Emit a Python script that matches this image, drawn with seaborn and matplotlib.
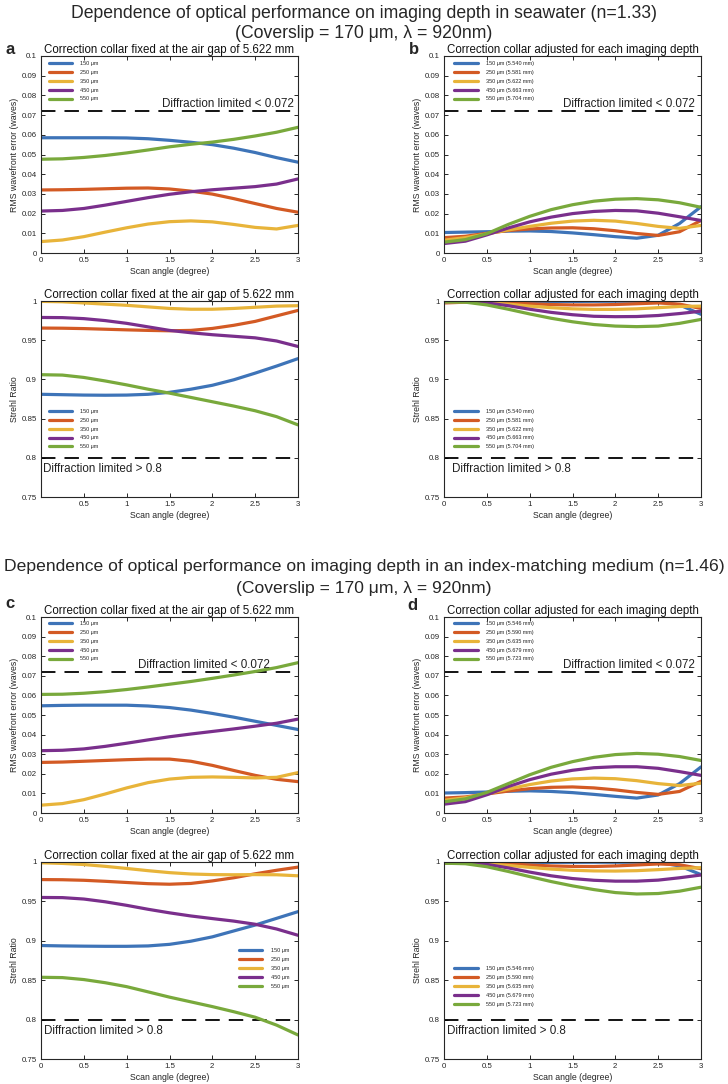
import numpy as np
import pandas as pd
import seaborn as sns
import matplotlib.pyplot as plt

# %%
# Dados
angle = [0, 0.25, 0.5, 0.75, 1, 1.25, 1.5, 1.75, 2, 2.25, 2.5, 2.75, 3]
depths = ['150', '250', '350', '450', '550']

rms_a = [
    [0.0585, 0.0585, 0.0585, 0.0585, 0.0584, 0.0580, 0.0572, 0.0562, 0.0550, 0.0532, 0.0510, 0.0484, 0.0461],
    [0.0320, 0.0321, 0.0323, 0.0326, 0.0329, 0.0330, 0.0325, 0.0314, 0.0299, 0.0276, 0.0251, 0.0226, 0.0207],
    [0.0058, 0.0066, 0.0083, 0.0106, 0.0128, 0.0147, 0.0159, 0.0163, 0.0158, 0.0145, 0.0130, 0.0122, 0.0140],
    [0.0213, 0.0216, 0.0226, 0.0243, 0.0262, 0.0281, 0.0298, 0.0311, 0.0321, 0.0329, 0.0337, 0.0350, 0.0376],
    [0.0476, 0.0478, 0.0485, 0.0495, 0.0508, 0.0523, 0.0539, 0.0552, 0.0563, 0.0577, 0.0594, 0.0613, 0.0638],
]
rms_b = [
    [0.0104, 0.0106, 0.0108, 0.0111, 0.0112, 0.0109, 0.0102, 0.0093, 0.0083, 0.0075, 0.0090, 0.0150, 0.0235],
    [0.0078, 0.0085, 0.0100, 0.0114, 0.0122, 0.0127, 0.0128, 0.0123, 0.0113, 0.0099, 0.0089, 0.0108, 0.0165],
    [0.0065, 0.0078, 0.0097, 0.0117, 0.0135, 0.0151, 0.0162, 0.0166, 0.0162, 0.0150, 0.0135, 0.0125, 0.0140],
    [0.0048, 0.0060, 0.0092, 0.0127, 0.0158, 0.0182, 0.0200, 0.0211, 0.0216, 0.0214, 0.0202, 0.0184, 0.0165],
    [0.0055, 0.0068, 0.0098, 0.0145, 0.0186, 0.0220, 0.0245, 0.0263, 0.0273, 0.0276, 0.0270, 0.0255, 0.0232],
]
strehl_a = [
    [0.8810, 0.8805, 0.8800, 0.8798, 0.8800, 0.8810, 0.8835, 0.8875, 0.8925, 0.8995, 0.9080, 0.9170, 0.9265],
    [0.9655, 0.9653, 0.9648, 0.9640, 0.9632, 0.9625, 0.9620, 0.9625, 0.9650, 0.9690, 0.9740, 0.9810, 0.9880],
    [0.9995, 0.9990, 0.9975, 0.9960, 0.9945, 0.9925, 0.9905, 0.9895, 0.9895, 0.9905, 0.9920, 0.9935, 0.9940],
    [0.9790, 0.9788, 0.9775, 0.9750, 0.9715, 0.9670, 0.9625, 0.9595, 0.9570, 0.9550, 0.9530, 0.9490, 0.9420],
    [0.9060, 0.9055, 0.9025, 0.8980, 0.8930, 0.8875, 0.8825, 0.8770, 0.8715, 0.8660, 0.8600, 0.8525, 0.8420],
]
strehl_b = [
    [0.9985, 0.9990, 0.9992, 0.9992, 0.9992, 0.9993, 0.9994, 0.9996, 0.9997, 0.9997, 0.9995, 0.9950, 0.9830],
    [0.9975, 0.9985, 0.9985, 0.9975, 0.9965, 0.9955, 0.9950, 0.9950, 0.9955, 0.9965, 0.9975, 0.9960, 0.9905],
    [0.9985, 0.9990, 0.9980, 0.9960, 0.9935, 0.9915, 0.9900, 0.9893, 0.9893, 0.9900, 0.9915, 0.9930, 0.9935],
    [0.9990, 0.9995, 0.9975, 0.9940, 0.9895, 0.9855, 0.9825, 0.9805, 0.9800, 0.9802, 0.9815, 0.9840, 0.9870],
    [0.9990, 0.9985, 0.9950, 0.9895, 0.9835, 0.9780, 0.9735, 0.9700, 0.9680, 0.9673, 0.9680, 0.9715, 0.9765],
]
rms_c = [
    [0.0547, 0.0549, 0.0550, 0.0550, 0.0550, 0.0546, 0.0538, 0.0525, 0.0508, 0.0489, 0.0468, 0.0447, 0.0426],
    [0.0258, 0.0260, 0.0264, 0.0268, 0.0272, 0.0275, 0.0275, 0.0264, 0.0243, 0.0217, 0.0192, 0.0172, 0.0160],
    [0.0040, 0.0048, 0.0068, 0.0097, 0.0128, 0.0155, 0.0173, 0.0182, 0.0184, 0.0182, 0.0179, 0.0182, 0.0206],
    [0.0318, 0.0320, 0.0327, 0.0340, 0.0356, 0.0373, 0.0389, 0.0403, 0.0416, 0.0429, 0.0443, 0.0458, 0.0479],
    [0.0605, 0.0606, 0.0611, 0.0619, 0.0630, 0.0643, 0.0657, 0.0671, 0.0687, 0.0704, 0.0722, 0.0742, 0.0767],
]
rms_d = [
    [0.0102, 0.0104, 0.0107, 0.0111, 0.0113, 0.0110, 0.0104, 0.0095, 0.0085, 0.0076, 0.0092, 0.0150, 0.0235],
    [0.0076, 0.0082, 0.0097, 0.0112, 0.0124, 0.0131, 0.0133, 0.0128, 0.0118, 0.0105, 0.0095, 0.0110, 0.0162],
    [0.0065, 0.0078, 0.0098, 0.0122, 0.0145, 0.0163, 0.0174, 0.0178, 0.0175, 0.0165, 0.0150, 0.0140, 0.0152],
    [0.0045, 0.0058, 0.0093, 0.0135, 0.0170, 0.0198, 0.0218, 0.0231, 0.0236, 0.0236, 0.0228, 0.0211, 0.0192],
    [0.0057, 0.0072, 0.0105, 0.0150, 0.0195, 0.0233, 0.0262, 0.0284, 0.0298, 0.0304, 0.0300, 0.0288, 0.0268],
]
strehl_c = [
    [0.8940, 0.8935, 0.8932, 0.8930, 0.8930, 0.8935, 0.8955, 0.8995, 0.9050, 0.9125, 0.9200, 0.9285, 0.9370],
    [0.9777, 0.9775, 0.9768, 0.9755, 0.9740, 0.9725, 0.9718, 0.9728, 0.9760, 0.9800, 0.9850, 0.9895, 0.9935],
    [0.9990, 0.9982, 0.9968, 0.9945, 0.9918, 0.9890, 0.9865, 0.9848, 0.9840, 0.9838, 0.9840, 0.9838, 0.9825],
    [0.9550, 0.9548, 0.9530, 0.9495, 0.9450, 0.9400, 0.9355, 0.9315, 0.9282, 0.9250, 0.9210, 0.9150, 0.9070],
    [0.8537, 0.8533, 0.8508, 0.8468, 0.8418, 0.8352, 0.8285, 0.8225, 0.8165, 0.8100, 0.8030, 0.7930, 0.7805],
]
strehl_d = [
    [0.9985, 0.9990, 0.9993, 0.9994, 0.9994, 0.9995, 0.9996, 0.9997, 0.9997, 0.9997, 0.9995, 0.9950, 0.9840],
    [0.9985, 0.9990, 0.9985, 0.9975, 0.9962, 0.9950, 0.9944, 0.9943, 0.9950, 0.9962, 0.9975, 0.9965, 0.9915],
    [0.9985, 0.9988, 0.9978, 0.9957, 0.9932, 0.9910, 0.9895, 0.9887, 0.9885, 0.9890, 0.9903, 0.9918, 0.9928],
    [0.9990, 0.9993, 0.9970, 0.9925, 0.9872, 0.9825, 0.9790, 0.9768, 0.9757, 0.9757, 0.9770, 0.9800, 0.9835],
    [0.9985, 0.9978, 0.9940, 0.9880, 0.9815, 0.9752, 0.9697, 0.9650, 0.9612, 0.9594, 0.9600, 0.9630, 0.9680],
]

leg_fixed = ['150 μm', '250 μm', '350 μm', '450 μm', '550 μm']
leg_b = ['150 μm (5.540 mm)', '250 μm (5.581 mm)', '350 μm (5.622 mm)', '450 μm (5.663 mm)', '550 μm (5.704 mm)']
leg_d = ['150 μm (5.546 mm)', '250 μm (5.590 mm)', '350 μm (5.635 mm)', '450 μm (5.679 mm)', '550 μm (5.723 mm)']

cores = ['#3E74B8', '#D35A24', '#E8B43A', '#7A2F8C', '#79A93C']

# %%
# Estilo
sns.set_theme(style='ticks')
plt.rcParams['font.family'] = ['Liberation Sans', 'DejaVu Sans']
plt.rcParams['axes.edgecolor'] = '#262626'
plt.rcParams['axes.linewidth'] = 0.8

fig = plt.figure(figsize=(7.28, 10.84), dpi=100)
W, H = 728, 1084


def caixa(x0, y0, x1, y1):
    return [x0 / W, 1 - y1 / H, (x1 - x0) / W, (y1 - y0) / H]


def painel(rect, series, tipo, titulo, rotulos, leg_pos, txt_x, sem_zero=False):
    ax = fig.add_axes(rect)
    df = pd.DataFrame({
        'angulo': angle * 5,
        'valor': sum(series, []),
        'prof': np.repeat(depths, len(angle)),
    })
    sns.lineplot(data=df, x='angulo', y='valor', hue='prof', palette=cores,
                 linewidth=2.3, estimator=None, legend=False, ax=ax)
    if tipo == 'rms':
        ax.set_ylim(0, 0.1)
        ax.set_yticks(np.arange(0, 0.101, 0.01))
        ax.set_yticklabels(['0', '0.01', '0.02', '0.03', '0.04', '0.05', '0.06', '0.07', '0.08', '0.09', '0.1'])
        ax.axhline(0.072, color='black', lw=1.3, ls=(0, (8, 5)), zorder=1)
        ax.text(txt_x, 0.0755, 'Diffraction limited < 0.072', ha='right', va='center',
                fontsize=8.4, color='#222222', transform=ax.get_yaxis_transform())
        ax.set_ylabel('RMS wavefront error (waves)', fontsize=6.3, labelpad=2)
    else:
        ax.set_ylim(0.75, 1)
        ax.set_yticks([0.75, 0.8, 0.85, 0.9, 0.95, 1])
        ax.set_yticklabels(['0.75', '0.8', '0.85', '0.9', '0.95', '1'])
        ax.axhline(0.8, color='black', lw=1.3, ls=(0, (8, 5)), zorder=1)
        ax.text(txt_x, 0.786, 'Diffraction limited > 0.8', ha='left', va='center',
                fontsize=8.4, color='#222222', transform=ax.get_yaxis_transform())
        ax.set_ylabel('Strehl Ratio', fontsize=6.3, labelpad=2)
    ax.set_xlim(0, 3)
    ax.set_xticks([0, 0.5, 1, 1.5, 2, 2.5, 3])
    xl = ['0', '0.5', '1', '1.5', '2', '2.5', '3']
    if sem_zero:
        xl[0] = ''
    ax.set_xticklabels(xl)
    ax.set_xlabel('Scan angle (degree)', fontsize=6.3, labelpad=2)
    ax.tick_params(direction='in', top=True, right=True, length=3, width=0.7,
                   labelsize=5.7, pad=3, colors='#262626')
    ax.set_title(titulo, fontsize=8.3, pad=2, color='#111111')
    for s in ax.spines.values():
        s.set_visible(True)
    ax.legend(ax.get_lines()[:5], rotulos, loc='upper left', bbox_to_anchor=leg_pos,
              frameon=False, fontsize=4, handlelength=4.2, handletextpad=1.5,
              labelspacing=0.7, borderpad=0, borderaxespad=0)
    for l in ax.get_legend().get_lines():
        l.set_linewidth(2.3)
    return ax


t_fixo = 'Correction collar fixed at the air gap of 5.622 mm'
t_ajus = 'Correction collar adjusted for each imaging depth'

painel(caixa(41, 56, 298, 253), rms_a, 'rms', t_fixo, leg_fixed, (0.03, 0.975), 0.985)
painel(caixa(444, 56, 701, 253), rms_b, 'rms', t_ajus, leg_b, (0.04, 0.975), 0.977)
painel(caixa(41, 301, 298, 497), strehl_a, 'strehl', t_fixo, leg_fixed, (0.03, 0.45), 0.008, sem_zero=True)
painel(caixa(444, 301, 701, 497), strehl_b, 'strehl', t_ajus, leg_b, (0.04, 0.45), 0.03)
painel(caixa(41, 617, 298, 813), rms_c, 'rms', t_fixo, leg_fixed, (0.03, 0.98), 0.89)
painel(caixa(444, 617, 701, 813), rms_d, 'rms', t_ajus, leg_d, (0.04, 0.98), 0.977)
painel(caixa(41, 862, 298, 1059), strehl_c, 'strehl', t_fixo, leg_fixed, (0.77, 0.563), 0.012)
painel(caixa(444, 862, 701, 1059), strehl_d, 'strehl', t_ajus, leg_d, (0.04, 0.472), 0.012)

# Titulos gerais
fig.text(0.5, 1 - 13 / H, 'Dependence of optical performance on imaging depth in seawater (n=1.33)',
         ha='center', va='center', fontsize=12.7)
fig.text(0.5, 1 - 33 / H, '(Coverslip = 170 μm, λ = 920nm)', ha='center', va='center', fontsize=12.7)
fig.text(0.5, 1 - 567 / H, 'Dependence of optical performance on imaging depth in an index-matching medium (n=1.46)',
         ha='center', va='center', fontsize=12.6)
fig.text(0.5, 1 - 588 / H, '(Coverslip = 170 μm, λ = 920nm)', ha='center', va='center', fontsize=12.6)

# Letras dos paineis
for letra, x, y in [('a', 10, 49), ('b', 414, 49), ('c', 10, 603), ('d', 412, 606)]:
    fig.text(x / W, 1 - y / H, letra, ha='center', va='center', fontsize=12, fontweight='bold')

fig.savefig('out.png', dpi=100)
